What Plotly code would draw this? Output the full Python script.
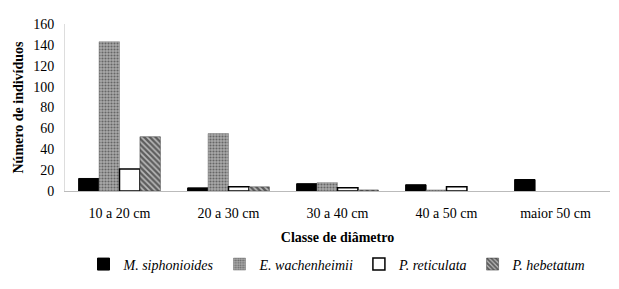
import plotly.graph_objects as go

categories = ["10 a 20 cm", "20 a 30 cm", "30 a 40 cm", "40 a 50 cm", "maior 50 cm"]
m_siphonioides = [12, 3, 7, 6, 11]
e_wachenheimii = [143, 55, 8, 1, None]
p_reticulata = [21, 4, 3, 4, None]
p_hebetatum = [52, 4, 1, None, None]

font_family = "Liberation Serif"

fig = go.Figure()
fig.add_trace(go.Bar(name="<i>M. siphonioides</i>", x=categories, y=m_siphonioides,
                     marker=dict(color="black", line=dict(color="black", width=1))))
fig.add_trace(go.Bar(name="<i>E. wachenheimii</i>", x=categories, y=e_wachenheimii,
                     marker=dict(color="#999999", line=dict(color="#777", width=0.5),
                                 pattern=dict(shape=".", fgcolor="#222222", bgcolor="#aaaaaa",
                                              size=3, solidity=0.4))))
fig.add_trace(go.Bar(name="<i>P. reticulata</i>", x=categories, y=p_reticulata,
                     marker=dict(color="white", line=dict(color="black", width=1.5))))
fig.add_trace(go.Bar(name="<i>P. hebetatum</i>", x=categories, y=p_hebetatum,
                     marker=dict(color="#999999", line=dict(color="#333", width=0.5),
                                 pattern=dict(shape="\\", fgcolor="black", bgcolor="#bbbbbb",
                                              size=4, solidity=0.6))))

fig.update_layout(
    width=611, height=281,
    margin=dict(l=55, r=9, t=9, b=91),
    paper_bgcolor="white", plot_bgcolor="white",
    barmode="group", bargap=0.25, bargroupgap=0,
    font=dict(family=font_family, size=14, color="black"),
    showlegend=True,
    legend=dict(orientation="h", x=0.5, xanchor="center", y=-0.44, yanchor="middle",
                font=dict(family=font_family, size=14), traceorder="normal",
                itemwidth=30),
    xaxis=dict(showline=True, linecolor="#bbbbbb", linewidth=1, ticks="",
               ticklabelstandoff=9,
               title=dict(text="<b>Classe de diâmetro</b>", font=dict(size=14), standoff=12),
               tickfont=dict(size=14)),
    yaxis=dict(range=[0, 160], dtick=20, showgrid=False, zeroline=False,
               showline=True, linecolor="#dddddd", linewidth=1, ticks="",
               ticklabelstandoff=7,
               title=dict(text="<b>Número de indivíduos</b>", font=dict(size=14), standoff=6),
               tickfont=dict(size=14)),
)

fig.write_html("out.html")
